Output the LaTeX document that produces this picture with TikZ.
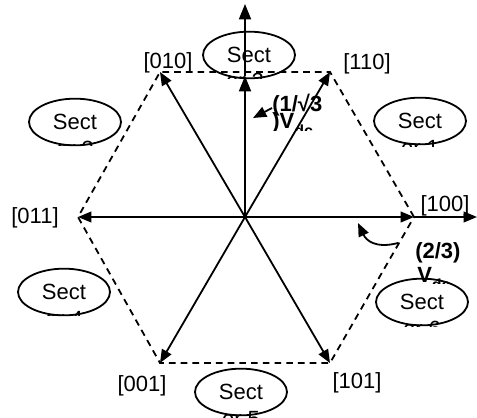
\documentclass[tikz,border=0pt]{standalone}
\usepackage{fontspec}
\setmainfont{Liberation Sans}
\usetikzlibrary{arrows.meta,shapes.geometric}
\newcommand{\mysubdc}{\raisebox{-6pt}{\fontsize{12}{13}\selectfont dc}}
\begin{document}
\begin{tikzpicture}[x=0.75pt,y=-0.75pt,
  vec/.style={line width=1.35pt,-{Triangle[length=10pt,width=8pt]}},
  bigvec/.style={line width=1.35pt,-{Triangle[length=11.5pt,width=9pt]}},
  hexe/.style={line width=1.35pt,dash pattern=on 5pt off 3.8pt},
  sect/.style={draw,ellipse,line width=1.35pt,minimum width=69pt,minimum height=35pt,inner sep=0pt,font=\fontsize{16.5}{18}\selectfont},
  lab/.style={inner sep=0pt,font=\fontsize{16.5}{18}\selectfont},
  blab/.style={inner sep=0pt,anchor=base west,font=\fontsize{16.5}{18}\selectfont\bfseries},
  frag/.style={inner sep=0pt,anchor=base,font=\fontsize{16.5}{18}\selectfont}]
\useasboundingbox (0,0) rectangle (477,417);
% vertices
\coordinate (O) at (245,217);
\coordinate (v100) at (414,217);
\coordinate (v110) at (330,72);
\coordinate (v010) at (160,72);
\coordinate (v011) at (78,217);
\coordinate (v001) at (160,363);
\coordinate (v101) at (330,363);
\coordinate (vtop) at (245,76);
\coordinate (etop) at (245,4);
\coordinate (eright) at (477,217);
% dashed hexagon
\draw[hexe] (v100) -- (v110) -- (v010) -- (v011) -- (v001) -- (v101) -- cycle;
% vectors
\draw[vec] (O) -- (v100);
\draw[vec] (O) -- (v110);
\draw[vec] (O) -- (v010);
\draw[vec] (O) -- (v011);
\draw[vec] (O) -- (v001);
\draw[vec] (O) -- (v101);
\draw[bigvec] (O) -- (vtop);
\draw[bigvec] (vtop) -- (etop);
\draw[vec] (v100) -- (eright);
% vertex labels
\node[lab] (l010) at (168,63) {[010]};
\node[lab] (l110) at (367,64) {[110]};
\node[lab] (l100) at (445,206) {[100]};
\node[lab] (l011) at (35,218) {[011]};
\node[lab] (l001) at (142,386) {[001]};
\node[lab] (l101) at (357,383) {[101]};
% sectors
\node[sect] (s2) at (249,55) {Sect};
\node[sect] (s1) at (420,121) {Sect};
\node[sect] (s3) at (75,122) {Sect};
\node[sect] (s4) at (64,292) {Sect};
\node[sect] (s6) at (422,302) {Sect};
\node[sect] (s5) at (241,392) {Sect};
% clipped second lines
\begin{scope}\clip (215,72) rectangle (280,79); \node[frag] (f2) at (245,89) {or 2};\end{scope}
\begin{scope}\clip (385,139) rectangle (455,146); \node[frag] (f1) at (420,155) {or 1};\end{scope}
\begin{scope}\clip (40,139) rectangle (110,145); \node[frag] (f3) at (75,156) {or 3};\end{scope}
\begin{scope}\clip (30,309) rectangle (100,315); \node[frag] (f4) at (64,326) {or 4};\end{scope}
\begin{scope}\clip (385,319) rectangle (455,326); \node[frag] (f6) at (422,336) {or 6};\end{scope}
\begin{scope}\clip (205,410) rectangle (280,417); \node[frag] (f5) at (241,426) {or 5};\end{scope}
% magnitude labels
\node[blab] (m1) at (272,112) {(1/√3};
\begin{scope}\clip (265,108) rectangle (330,130); \node[blab] (m1b) at (272,128) {)V\mysubdc};\end{scope}
\node[blab] (m2) at (415,258) {(2/3)};
\begin{scope}\clip (410,260) rectangle (460,283); \node[blab] (m2b) at (417,282) {V\mysubdc};\end{scope}
% pointer arrows
\coordinate (a1) at (272,108);
\coordinate (a2) at (253,118);
\draw[vec] (a1) -- (a2);
\coordinate (c1) at (398,243);
\coordinate (c2) at (358,223);
\draw[vec] (c1) .. controls (375,249) and (366,240) .. (c2);
\end{tikzpicture}
\end{document}
